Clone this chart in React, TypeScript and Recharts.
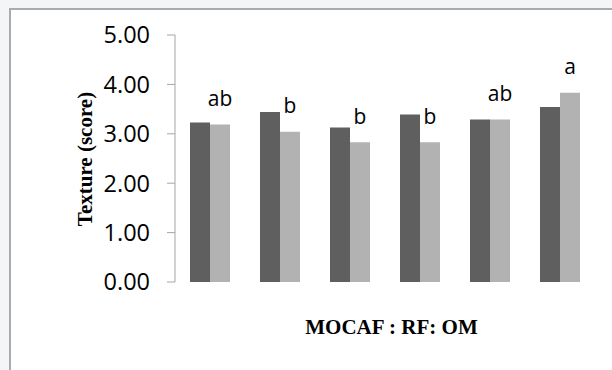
import React from "react";
import { BarChart, Bar, XAxis, YAxis, LabelList } from "recharts";

const categories = ["T1", "T2", "T3", "T4", "T5", "T6"];
const seriesDark = [3.23, 3.44, 3.13, 3.39, 3.29, 3.54];
const seriesLight = [3.19, 3.04, 2.83, 2.83, 3.29, 3.83];
const letters = ["ab", "b", "b", "b", "ab", "a"];
const yTicks = [0, 1, 2, 3, 4, 5];

const data = categories.map((c, i) => ({
  name: c,
  dark: seriesDark[i],
  light: seriesLight[i],
  letter: letters[i],
}));

const LetterLabel = (props: any) => {
  const { x, y, width, value } = props;
  return (
    <text
      x={Number(x) + Number(width) / 2}
      y={Number(y) - 18.5}
      textAnchor="middle"
      fontFamily="'Open Sans', sans-serif"
      fontSize={21}
      fill="#000"
    >
      {value}
    </text>
  );
};

export default function App() {
  return (
    <div
      style={{
        position: "fixed",
        left: 0,
        top: 0,
        width: 612,
        height: 370,
        overflow: "hidden",
        background: "#f4f5f7",
      }}
    >
      <div
        style={{
          position: "absolute",
          left: 9,
          top: 8,
          width: 700,
          height: 500,
          background: "#ffffff",
          borderLeft: "2px solid #ababab",
          borderTop: "2px solid #ababab",
        }}
      />
      <div style={{ position: "absolute", left: 0, top: 0 }}>
        <BarChart
          width={612}
          height={370}
          data={data}
          margin={{ top: 35, right: 17, bottom: 88, left: 0 }}
          barGap={0}
          barSize={20}
        >
          <XAxis dataKey="name" hide />
          <YAxis
            width={175}
            domain={[0, 5]}
            ticks={yTicks}
            interval={0}
            tickFormatter={(v: number) => v.toFixed(2)}
            axisLine={{ stroke: "#a6a6a6", strokeWidth: 1 }}
            tickLine={{ stroke: "#a6a6a6", strokeWidth: 1 }}
            tickSize={8}
            tickMargin={17}
            tick={{ fill: "#000", fontSize: 23.5, fontFamily: "'Open Sans', sans-serif" }}
          />
          <Bar dataKey="dark" fill="#5f5f5f" isAnimationActive={false} />
          <Bar dataKey="light" fill="#b2b2b2" isAnimationActive={false}>
            <LabelList dataKey="letter" content={LetterLabel} />
          </Bar>
        </BarChart>
      </div>
      <div
        style={{
          position: "absolute",
          left: 84.5,
          top: 159,
          transform: "translate(-50%, -50%) rotate(-90deg)",
          fontFamily: "'Liberation Serif', serif",
          fontWeight: "bold",
          fontSize: 21,
          lineHeight: 1,
          whiteSpace: "nowrap",
          color: "#000",
        }}
      >
        Texture (score)
      </div>
      <div
        style={{
          position: "absolute",
          left: 391.5,
          top: 326.5,
          transform: "translate(-50%, -50%)",
          fontFamily: "'Liberation Serif', serif",
          fontWeight: "bold",
          fontSize: 21,
          lineHeight: 1,
          whiteSpace: "nowrap",
          color: "#000",
        }}
      >
        MOCAF : RF: OM
      </div>
    </div>
  );
}
